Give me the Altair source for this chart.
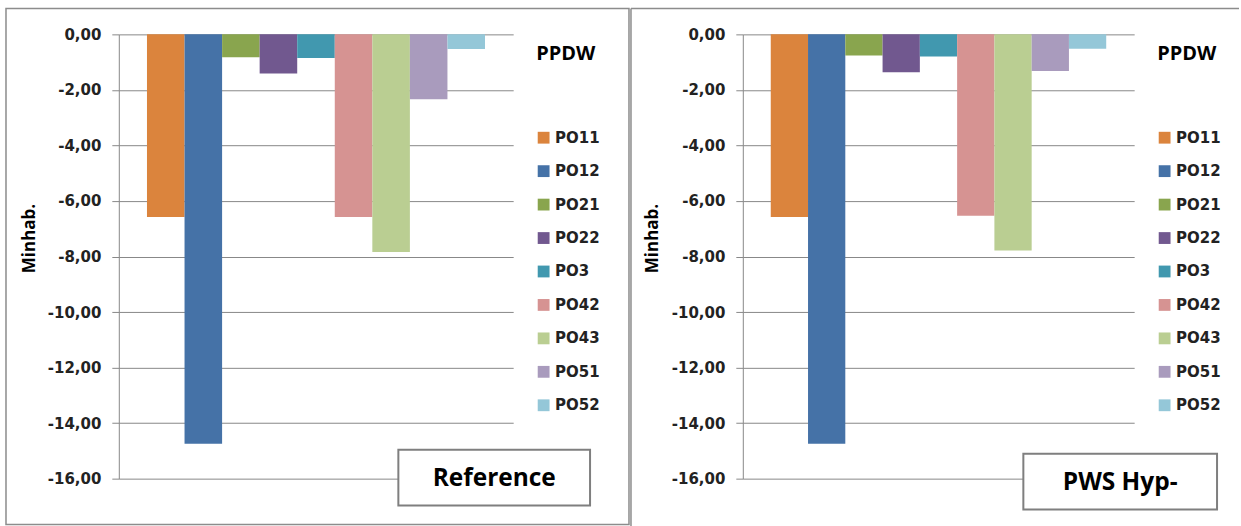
import altair as alt
import pandas as pd

# Series (one bar each) and their values in the two scenarios
series = ["PO11", "PO12", "PO21", "PO22", "PO3", "PO42", "PO43", "PO51", "PO52"]
reference_values = [-6.58, -14.74, -0.82, -1.41, -0.85, -6.58, -7.84, -2.34, -0.53]
hyp_values = [-6.58, -14.74, -0.76, -1.36, -0.80, -6.53, -7.78, -1.32, -0.52]
colors = ["#DB843D", "#4572A7", "#89A54E", "#71588F", "#4198AF",
          "#D69392", "#BACE92", "#A99BBD", "#94C7D8"]
y_ticks = [-16, -14, -12, -10, -8, -6, -4, -2, 0]
legend_title = "PPDW"
axis_title = "Minhab."
panel_labels = ["Reference", "PWS Hyp-"]

GRID = "#888888"
FRAME = "#8c8c8c"
TEXT = "#222222"
LABEL_EXPR = "(datum.value < 0 ? '-' : '') + replace(format(abs(datum.value), '.2f'), '.', ',')"


def panel(values, label, width, title_x, legend_x, box, frame_left, frame_right, closed):
    df = pd.DataFrame({"serie": series, "valor": values})
    lab = pd.DataFrame({"label": [label]})

    bars = alt.Chart(df).mark_bar().encode(
        x=alt.X("serie:N", sort=series, axis=None,
                scale=alt.Scale(paddingInner=0, paddingOuter=0.75)),
        y=alt.Y("valor:Q",
                scale=alt.Scale(domain=[-16, 0], nice=False, zero=True),
                axis=alt.Axis(values=y_ticks, title=axis_title, labelExpr=LABEL_EXPR,
                              labelFont="DejaVu Sans", labelFontSize=15,
                              labelFontWeight="bold", labelColor=TEXT,
                              labelPadding=11, tickSize=7, tickColor=GRID,
                              domainColor=GRID, gridColor=GRID, grid=True,
                              labelOverlap=False,
                              titleFont="Open Sans", titleFontSize=17,
                              titleFontWeight="bold", titleColor="#000000",
                              titleX=title_x, titleY=204, titleAlign="center",
                              titleBaseline="middle")),
        color=alt.Color("serie:N", sort=series,
                        scale=alt.Scale(domain=series, range=colors),
                        legend=alt.Legend(title=legend_title, orient="none",
                                          legendX=legend_x, legendY=10, padding=0,
                                          titleFont="Open Sans", titleFontSize=20,
                                          titleFontWeight="bold", titleColor="#000000",
                                          titlePadding=66,
                                          labelFont="DejaVu Sans", labelFontSize=15,
                                          labelFontWeight="bold", labelColor=TEXT,
                                          labelOffset=4, rowPadding=17.5,
                                          symbolType="square", symbolSize=140,
                                          symbolStrokeWidth=0)),
    )

    bx, bx2, by, by2 = box
    label_box = alt.Chart(lab).mark_rect(fill="white", stroke="#7f7f7f", strokeWidth=2).encode(
        x=alt.value(bx), x2=alt.value(bx2), y=alt.value(by), y2=alt.value(by2))
    label_text = alt.Chart(lab).mark_text(font="Open Sans", fontSize=24.5, fontWeight="bold",
                                          color="#000000", align="center",
                                          baseline="middle").encode(
        x=alt.value((bx + bx2) / 2), y=alt.value((by + by2) / 2 + 1), text="label:N")

    if closed:
        frame = alt.Chart(lab).mark_rect(filled=False, stroke=FRAME, strokeWidth=1.5).encode(
            x=alt.value(frame_left), x2=alt.value(frame_right),
            y=alt.value(-26), y2=alt.value(491))
        layers = [frame]
    else:
        top = alt.Chart(lab).mark_rule(stroke=FRAME, strokeWidth=1.5).encode(
            x=alt.value(frame_left), x2=alt.value(frame_right), y=alt.value(-26))
        left = alt.Chart(lab).mark_rule(stroke=FRAME, strokeWidth=1.5).encode(
            x=alt.value(frame_left), y=alt.value(-26), y2=alt.value(493))
        layers = [top, left]

    return alt.layer(*layers, bars, label_box, label_text).properties(width=width, height=445)


left_panel = panel(reference_values, panel_labels[0], 395, -89, 418,
                   (280, 472, 416, 472), -113, 511, True)
right_panel = panel(hyp_values, panel_labels[1], 392, -90, 415,
                    (281, 475, 420, 476), -112, 497, False)

chart = alt.hconcat(left_panel, right_panel, spacing=230, bounds="flush").resolve_scale(
    color="independent"
).properties(
    padding={"left": 4, "top": 6, "right": 0, "bottom": 0},
    background="white",
).configure_view(stroke="transparent")

chart.save("out.html", embed_options={"renderer": "svg", "actions": False})
